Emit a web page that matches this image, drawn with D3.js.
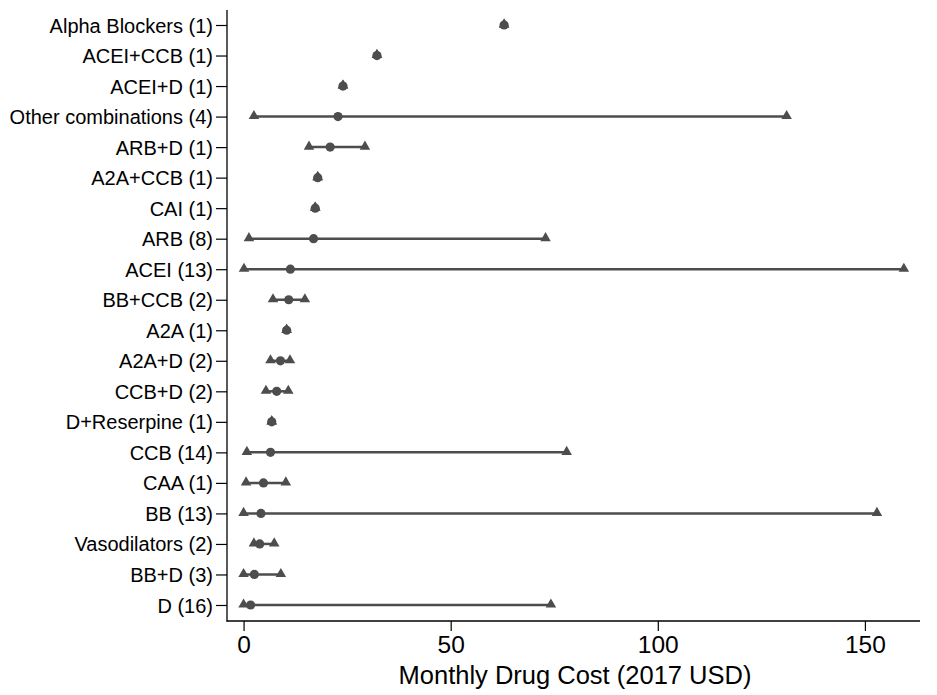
<!DOCTYPE html>
<html>
<head>
<meta charset="utf-8">
<script src="https://cdn.jsdelivr.net/npm/d3@7"></script>
<style>
  html, body { margin: 0; padding: 0; background: #fff; }
  svg { display: block; }
  text { font-family: "Liberation Sans", Arial, Helvetica, sans-serif; fill: #000; }
</style>
</head>
<body>
<svg id="chart" width="937" height="695"></svg>
<script>
const categories = ["Alpha Blockers (1)","ACEI+CCB (1)","ACEI+D (1)","Other combinations (4)","ARB+D (1)","A2A+CCB (1)","CAI (1)","ARB (8)","ACEI (13)","BB+CCB (2)","A2A (1)","A2A+D (2)","CCB+D (2)","D+Reserpine (1)","CCB (14)","CAA (1)","BB (13)","Vasodilators (2)","BB+D (3)","D (16)"];
const minValues    = [62.9, 32.2, 24.0, 2.5, 15.8, 17.9, 17.3, 1.3, 0.1, 7.1, 10.4, 6.5, 5.4, 6.8, 0.8, 0.6, 0.0, 2.5, 0.0, 0.0];
const medianValues = [62.9, 32.2, 24.0, 22.8, 20.9, 17.9, 17.3, 16.9, 11.3, 10.9, 10.4, 8.9, 8.0, 6.8, 6.5, 4.8, 4.2, 3.9, 2.6, 1.7];
const maxValues    = [62.9, 32.2, 24.0, 131.1, 29.3, 17.9, 17.3, 72.9, 159.4, 14.8, 10.4, 11.2, 10.8, 6.8, 78.0, 10.2, 152.9, 7.4, 9.0, 74.2];
const xTicks = [0, 50, 100, 150];
const xTitle = "Monthly Drug Cost (2017 USD)";

const rows = categories.map((c, i) => ({cat: c, min: minValues[i], med: medianValues[i], max: maxValues[i]}));

const svg = d3.select("#chart");
const x = d3.scaleLinear().domain([-4, 163.3]).range([227, 920]);
const y = d3.scalePoint().domain(categories).range([25, 605]);
const plotBottom = 621;
const markColor = "#4d4d4d";

// range lines
svg.append("g").selectAll("line").data(rows).join("line")
  .attr("x1", d => x(d.min)).attr("x2", d => x(d.max))
  .attr("y1", d => y(d.cat)).attr("y2", d => y(d.cat))
  .attr("stroke", markColor).attr("stroke-width", 2.5);

// triangles at min and max
const tri = d3.symbol().type(d3.symbolTriangle).size(48);
const triData = rows.flatMap(d => [{cat: d.cat, v: d.min}, {cat: d.cat, v: d.max}]);
svg.append("g").selectAll("path").data(triData).join("path")
  .attr("d", tri)
  .attr("transform", d => `translate(${x(d.v)},${y(d.cat) - 0.5})`)
  .attr("fill", markColor);

// median dots
svg.append("g").selectAll("circle").data(rows).join("circle")
  .attr("cx", d => x(d.med)).attr("cy", d => y(d.cat))
  .attr("r", 4.6).attr("fill", markColor);

// y axis
const yAxis = svg.append("g").attr("transform", "translate(227,0)")
  .call(d3.axisLeft(y).tickSize(11).tickPadding(3));
yAxis.select(".domain").remove();
yAxis.selectAll("text").style("font-size", "20px").attr("dy", "0.35em");
yAxis.selectAll(".tick line").attr("stroke", "#000").attr("stroke-width", 1.2);
svg.append("line").attr("x1", 227).attr("x2", 227).attr("y1", 10).attr("y2", plotBottom + 0.5)
  .attr("stroke", "#000").attr("stroke-width", 1.3);

// x axis
const xAxis = svg.append("g").attr("transform", `translate(0,${plotBottom})`)
  .call(d3.axisBottom(x).tickValues(xTicks).tickFormat(d3.format("d")).tickSize(10).tickPadding(5));
xAxis.select(".domain").remove();
xAxis.selectAll("text").style("font-size", "24.5px");
xAxis.selectAll(".tick line").attr("stroke", "#000").attr("stroke-width", 1.2);
svg.append("line").attr("x1", 226.5).attr("x2", 920).attr("y1", plotBottom).attr("y2", plotBottom)
  .attr("stroke", "#000").attr("stroke-width", 1.3);

svg.append("text")
  .attr("x", 575).attr("y", 684)
  .attr("text-anchor", "middle").style("font-size", "25.5px")
  .text(xTitle);
</script>
</body>
</html>
